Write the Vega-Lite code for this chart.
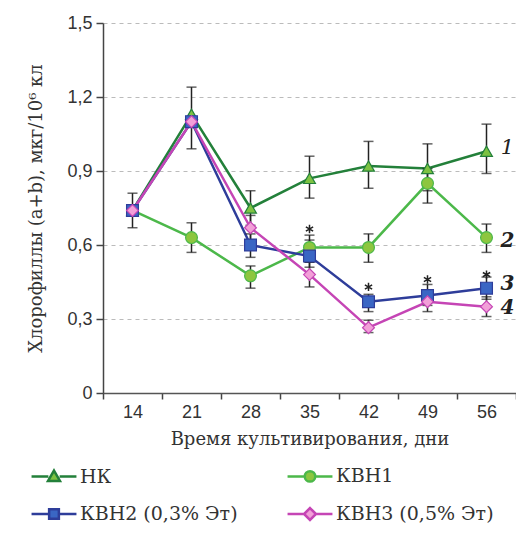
{
  "$schema": "https://vega.github.io/schema/vega-lite/v6.json",
  "width": 413,
  "height": 370,
  "autosize": {"type": "none"},
  "padding": {"left": 103, "top": 23, "right": 0, "bottom": 162},
  "background": "white",
  "config": {
    "view": {"stroke": null},
    "axis": {"labelFont": "Liberation Sans", "titleFont": "DejaVu Serif", "titleFontWeight": "normal", "labelColor": "#333", "titleColor": "#333"}
  },
  "datasets": {
    "main": [
      {"series": "НК", "day": 14, "v": 0.74, "lo": 0.67, "hi": 0.81},
      {"series": "НК", "day": 21, "v": 1.13, "lo": 0.99, "hi": 1.24},
      {"series": "НК", "day": 28, "v": 0.75, "lo": 0.68, "hi": 0.82},
      {"series": "НК", "day": 35, "v": 0.87, "lo": 0.79, "hi": 0.96},
      {"series": "НК", "day": 42, "v": 0.92, "lo": 0.83, "hi": 1.02},
      {"series": "НК", "day": 49, "v": 0.91, "lo": 0.82, "hi": 1.01},
      {"series": "НК", "day": 56, "v": 0.98, "lo": 0.89, "hi": 1.09},
      {"series": "КВН1", "day": 14, "v": 0.74, "lo": null, "hi": null},
      {"series": "КВН1", "day": 21, "v": 0.63, "lo": 0.57, "hi": 0.69},
      {"series": "КВН1", "day": 28, "v": 0.475, "lo": 0.425, "hi": 0.515},
      {"series": "КВН1", "day": 35, "v": 0.59, "lo": 0.53, "hi": 0.64},
      {"series": "КВН1", "day": 42, "v": 0.59, "lo": 0.53, "hi": 0.645},
      {"series": "КВН1", "day": 49, "v": 0.85, "lo": 0.77, "hi": 0.91},
      {"series": "КВН1", "day": 56, "v": 0.63, "lo": 0.57, "hi": 0.685},
      {"series": "КВН2 (0,3% Эт)", "day": 14, "v": 0.74, "lo": null, "hi": null},
      {"series": "КВН2 (0,3% Эт)", "day": 21, "v": 1.10, "lo": null, "hi": null},
      {"series": "КВН2 (0,3% Эт)", "day": 28, "v": 0.60, "lo": 0.55, "hi": 0.645},
      {"series": "КВН2 (0,3% Эт)", "day": 35, "v": 0.555, "lo": 0.51, "hi": 0.62},
      {"series": "КВН2 (0,3% Эт)", "day": 42, "v": 0.37, "lo": 0.33, "hi": 0.40},
      {"series": "КВН2 (0,3% Эт)", "day": 49, "v": 0.395, "lo": 0.355, "hi": 0.44},
      {"series": "КВН2 (0,3% Эт)", "day": 56, "v": 0.425, "lo": 0.38, "hi": 0.47},
      {"series": "КВН3 (0,5% Эт)", "day": 14, "v": 0.74, "lo": null, "hi": null},
      {"series": "КВН3 (0,5% Эт)", "day": 21, "v": 1.10, "lo": null, "hi": null},
      {"series": "КВН3 (0,5% Эт)", "day": 28, "v": 0.67, "lo": 0.62, "hi": 0.72},
      {"series": "КВН3 (0,5% Эт)", "day": 35, "v": 0.48, "lo": 0.43, "hi": 0.53},
      {"series": "КВН3 (0,5% Эт)", "day": 42, "v": 0.265, "lo": 0.245, "hi": 0.295},
      {"series": "КВН3 (0,5% Эт)", "day": 49, "v": 0.37, "lo": 0.33, "hi": 0.41},
      {"series": "КВН3 (0,5% Эт)", "day": 56, "v": 0.35, "lo": 0.31, "hi": 0.39}
    ],
    "stars": [
      {"day": 35, "v": 0.665},
      {"day": 42, "v": 0.43},
      {"day": 49, "v": 0.46},
      {"day": 56, "v": 0.48}
    ],
    "curveLabels": [
      {"day": 56, "v": 0.995, "label": "1"},
      {"day": 56, "v": 0.615, "label": "2"},
      {"day": 56, "v": 0.44, "label": "3"},
      {"day": 56, "v": 0.345, "label": "4"}
    ]
  },
  "resolve": {"scale": {"stroke": "independent", "fill": "independent", "shape": "independent"}},
  "encoding": {
    "x": {
      "field": "day", "type": "ordinal",
      "scale": {"type": "band", "paddingInner": 0, "paddingOuter": 0},
      "axis": {
        "title": "Время культивирования, дни",
        "labelAngle": 0, "labelFontSize": 18, "labelPadding": 4,
        "tickBand": "extent", "tickSize": 6, "tickColor": "#444", "tickWidth": 1.5,
        "domainColor": "#555", "domainWidth": 1.5,
        "titleFontSize": 18, "titlePadding": 9, "grid": false
      }
    },
    "y": {
      "type": "quantitative",
      "scale": {"domain": [0, 1.5], "nice": false},
      "axis": {
        "title": "Хлорофиллы (a+b), мкг/10⁶ кл",
        "values": [0, 0.3, 0.6, 0.9, 1.2, 1.5],
        "labelExpr": "datum.value == 0 ? '0' : replace(format(datum.value, '.1f'), '.', ',')",
        "labelFontSize": 18, "labelPadding": 4,
        "tickSize": 7, "tickColor": "#444", "tickWidth": 1.5,
        "domainColor": "#444", "domainWidth": 1.5,
        "grid": true, "gridColor": "#bbbbbb", "gridDash": [4, 4], "gridWidth": 1,
        "titleFontSize": 18, "titlePadding": 21
      }
    }
  },
  "layer": [
    {
      "data": {"name": "main"},
      "mark": {"type": "line", "strokeWidth": 2.5},
      "encoding": {
        "y": {"field": "v"},
        "stroke": {
          "field": "series", "type": "nominal",
          "scale": {
            "domain": ["НК", "КВН1", "КВН2 (0,3% Эт)", "КВН3 (0,5% Эт)"],
            "range": ["#23803a", "#4cb84a", "#2e3d9a", "#c545b5"]
          },
          "legend": null
        }
      }
    },
    {
      "data": {"name": "main"},
      "transform": [{"filter": "datum.lo != null"}],
      "mark": {"type": "rule", "color": "#222", "strokeWidth": 1.5},
      "encoding": {"y": {"field": "lo"}, "y2": {"field": "hi"}}
    },
    {
      "data": {"name": "main"},
      "transform": [{"filter": "datum.lo != null"}],
      "mark": {"type": "tick", "color": "#222", "thickness": 1.5, "size": 10, "orient": "horizontal"},
      "encoding": {"y": {"field": "lo"}}
    },
    {
      "data": {"name": "main"},
      "transform": [{"filter": "datum.lo != null"}],
      "mark": {"type": "tick", "color": "#222", "thickness": 1.5, "size": 10, "orient": "horizontal"},
      "encoding": {"y": {"field": "hi"}}
    },
    {
      "data": {"name": "main"},
      "mark": {"type": "point", "filled": true, "size": 140, "strokeWidth": 1.2, "opacity": 1},
      "encoding": {
        "y": {"field": "v"},
        "stroke": {
          "field": "series", "type": "nominal",
          "scale": {
            "domain": ["НК", "КВН1", "КВН2 (0,3% Эт)", "КВН3 (0,5% Эт)"],
            "range": ["#23803a", "#4cb84a", "#2e3d9a", "#c545b5"]
          },
          "legend": null
        },
        "fill": {
          "field": "series", "type": "nominal",
          "scale": {
            "domain": ["НК", "КВН1", "КВН2 (0,3% Эт)", "КВН3 (0,5% Эт)"],
            "range": ["#7dc242", "#8dc63f", "#3a66c4", "#f29fd8"]
          },
          "legend": null
        },
        "shape": {
          "field": "series", "type": "nominal",
          "scale": {
            "domain": ["НК", "КВН1", "КВН2 (0,3% Эт)", "КВН3 (0,5% Эт)"],
            "range": ["triangle-up", "circle", "square", "diamond"]
          },
          "legend": null
        }
      }
    },
    {
      "data": {"name": "stars"},
      "mark": {"type": "point", "shape": "M0,-1V1M-0.87,-0.5L0.87,0.5M-0.87,0.5L0.87,-0.5", "size": 70, "stroke": "#222", "strokeWidth": 1.5, "filled": false, "opacity": 1},
      "encoding": {"y": {"field": "v"}}
    },
    {
      "data": {"name": "curveLabels"},
      "transform": [{"filter": "datum.label == '1'"}],
      "mark": {"type": "text", "font": "DejaVu Serif", "fontStyle": "italic", "fontSize": 21, "dx": 21, "align": "center", "baseline": "middle", "color": "#222"},
      "encoding": {"y": {"field": "v"}, "text": {"field": "label"}}
    },
    {
      "data": {"name": "curveLabels"},
      "transform": [{"filter": "datum.label != '1'"}],
      "mark": {"type": "text", "font": "DejaVu Serif", "fontStyle": "italic", "fontWeight": "bold", "fontSize": 20, "dx": 21, "align": "center", "baseline": "middle", "color": "#222"},
      "encoding": {"y": {"field": "v"}, "text": {"field": "label"}}
    },
    {
      "data": {"name": "main"},
      "transform": [{"filter": "datum.day > 1000"}],
      "mark": {"type": "point", "filled": true, "opacity": 1, "strokeWidth": 2.5},
      "encoding": {
        "y": {"field": "v"},
        "stroke": {
          "field": "series", "type": "nominal",
          "scale": {
            "domain": ["НК", "КВН1", "КВН2 (0,3% Эт)", "КВН3 (0,5% Эт)"],
            "range": ["#23803a", "#4cb84a", "#2e3d9a", "#c545b5"]
          },
          "legend": {
            "title": null, "orient": "none", "legendX": -69, "legendY": 433, "direction": "horizontal",
            "columns": 2, "columnPadding": 44, "rowPadding": 7, "padding": 0,
            "labelFont": "DejaVu Serif", "labelFontSize": 19, "labelColor": "#333",
            "labelOffset": 6, "symbolSize": 1400, "symbolStrokeWidth": 2.5, "symbolOpacity": 1, "labelLimit": 300
          }
        },
        "fill": {
          "field": "series", "type": "nominal",
          "scale": {
            "domain": ["НК", "КВН1", "КВН2 (0,3% Эт)", "КВН3 (0,5% Эт)"],
            "range": ["#7dc242", "#8dc63f", "#3a66c4", "#f29fd8"]
          },
          "legend": {
            "title": null, "orient": "none", "legendX": -69, "legendY": 433, "direction": "horizontal",
            "columns": 2, "columnPadding": 44, "rowPadding": 7, "padding": 0,
            "labelFont": "DejaVu Serif", "labelFontSize": 19, "labelColor": "#333",
            "labelOffset": 6, "symbolSize": 1400, "symbolStrokeWidth": 2.5, "symbolOpacity": 1, "labelLimit": 300
          }
        },
        "shape": {
          "field": "series", "type": "nominal",
          "scale": {
            "domain": ["НК", "КВН1", "КВН2 (0,3% Эт)", "КВН3 (0,5% Эт)"],
            "range": [
              "M-1.2,0H-0.3M0.3,0H1.2M0,-0.32L0.32,0.24L-0.32,0.24Z",
              "M-1.2,0H-0.28M0.28,0H1.2M-0.28,0A0.28,0.28 0 1,0 0.28,0A0.28,0.28 0 1,0 -0.28,0Z",
              "M-1.2,0H-0.26M0.26,0H1.2M-0.26,-0.26H0.26V0.26H-0.26Z",
              "M-1.2,0H-0.32M0.32,0H1.2M0,-0.32L0.32,0L0,0.32L-0.32,0Z"
            ]
          },
          "legend": {
            "title": null, "orient": "none", "legendX": -69, "legendY": 433, "direction": "horizontal",
            "columns": 2, "columnPadding": 44, "rowPadding": 7, "padding": 0,
            "labelFont": "DejaVu Serif", "labelFontSize": 19, "labelColor": "#333",
            "labelOffset": 6, "symbolSize": 1400, "symbolStrokeWidth": 2.5, "symbolOpacity": 1, "labelLimit": 300
          }
        }
      }
    }
  ]
}
